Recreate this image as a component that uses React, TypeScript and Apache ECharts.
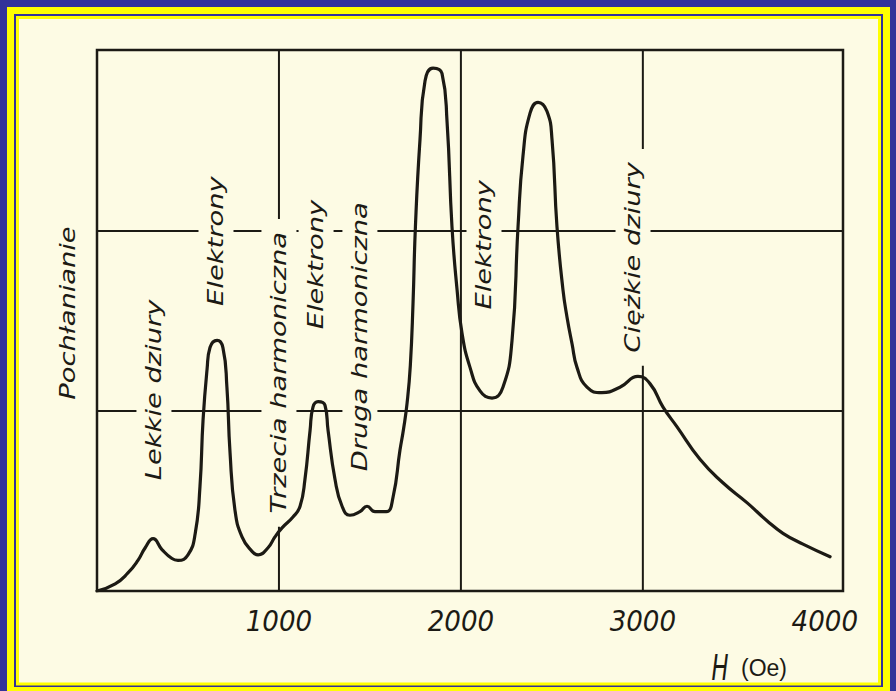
import React, { useEffect, useRef } from "react";
import * as echarts from "echarts";

// Absorption spectrum vs. magnetic field H (Oe)
const fieldOe = [
  0, 100, 170, 225, 265, 308, 357, 412, 445, 500, 540, 566, 583, 605, 621, 660, 692, 714, 731, 758,
  797, 852, 885, 940, 978, 1017, 1077, 1116, 1143, 1171, 1187, 1215, 1253, 1270, 1308, 1347, 1390,
  1445, 1484, 1528, 1590, 1627, 1665, 1685, 1704, 1722, 1737, 1750, 1775, 1803, 1847, 1896, 1924,
  1951, 1979, 2006, 2050, 2105, 2171, 2231, 2281, 2314, 2341, 2380, 2424, 2473, 2501, 2528, 2561,
  2583, 2611, 2638, 2693, 2775, 2874, 2973, 3039, 3111, 3188, 3314, 3440, 3572, 3682, 3770, 3880,
  4029,
];
const absorption = [
  0, 0.04, 0.1, 0.17, 0.24, 0.29, 0.23, 0.18, 0.17, 0.2, 0.32, 0.58, 0.95, 1.23, 1.35, 1.39, 1.35,
  1.13, 0.77, 0.45, 0.3, 0.22, 0.2, 0.24, 0.3, 0.35, 0.41, 0.47, 0.62, 0.89, 1.02, 1.05, 1.03, 0.89,
  0.62, 0.47, 0.42, 0.44, 0.47, 0.44, 0.44, 0.52, 0.78, 0.9, 1.04, 1.25, 1.6, 2.02, 2.5, 2.83, 2.9,
  2.87, 2.6, 2.02, 1.67, 1.43, 1.24, 1.11, 1.07, 1.13, 1.39, 2.02, 2.41, 2.65, 2.71, 2.66, 2.5, 2.02,
  1.67, 1.52, 1.37, 1.24, 1.13, 1.1, 1.13, 1.19, 1.15, 1.02, 0.91, 0.73, 0.6, 0.49, 0.39, 0.32, 0.26,
  0.19,
];

// Tick labels on the field axis and the vertical reference lines
const xTickValues = [1000, 2000, 3000, 4000];
const gridFieldOe = [1000, 2000, 3000];

// Peak annotations (text, field position, absorption level of the text centre)
const labelTexts = [
  "Lekkie dziury",
  "Elektrony",
  "Trzecia harmoniczna",
  "Elektrony",
  "Druga harmoniczna",
  "Elektrony",
  "Ciężkie dziury",
];
const labelFieldOe = [313, 654, 1000, 1204, 1445, 2127, 2946];
const labelAbsorption = [1.115, 1.94, 1.21, 1.81, 1.41, 1.92, 1.85];

const CREAM = "#fdfbe4";
const INK = "#1c1a14";
const BLUE = "#33339a";
const YELLOW = "#ffff00";
const LABEL_FONT = '"DejaVu Sans", "Liberation Sans", sans-serif';
const NARROW_FONT = '"Liberation Sans Narrow", "DejaVu Sans Condensed", "Liberation Sans", sans-serif';

const GRID = { left: 97, right: 53, top: 50, bottom: 100 };

export default function App() {
  const ref = useRef<HTMLDivElement>(null);

  useEffect(() => {
    const el = ref.current!;
    const chart = echarts.init(el, undefined, { renderer: "svg" });
    const curve = fieldOe.map((h, i) => [h, absorption[i]]);

    chart.setOption({
      animation: false,
      backgroundColor: CREAM,
      grid: {
        ...GRID,
        show: true,
        borderColor: INK,
        borderWidth: 2.5,
        backgroundColor: "transparent",
      },
      xAxis: {
        type: "value",
        min: 0,
        max: 4100,
        axisLine: { show: false },
        axisTick: { show: false },
        splitLine: { show: false },
        axisLabel: {
          customValues: xTickValues,
          formatter: (v: number) => String(v),
          margin: 15,
          fontFamily: NARROW_FONT,
          fontStyle: "italic",
          fontSize: 29,
          color: INK,
        },
      },
      yAxis: {
        type: "value",
        min: 0,
        max: 3,
        interval: 1,
        axisLine: { show: false },
        axisTick: { show: false },
        axisLabel: { show: false },
        splitLine: { show: true, lineStyle: { color: INK, width: 2 } },
      },
      series: [
        ...gridFieldOe.map((h) => ({
          type: "line",
          data: [
            [h, 0],
            [h, 3],
          ],
          symbol: "none",
          silent: true,
          z: 1,
          lineStyle: { color: INK, width: 2 },
        })),
        {
          type: "line",
          data: curve,
          smooth: 0.5,
          symbol: "none",
          z: 5,
          lineStyle: { color: INK, width: 3.2, join: "round", cap: "round" },
        },
      ],
    });

    const annotations = labelTexts.map((text, i) => {
      const [x, y] = chart.convertToPixel({ gridIndex: 0 }, [labelFieldOe[i], labelAbsorption[i]]) as number[];
      return {
        type: "text",
        x,
        y,
        rotation: Math.PI / 2,
        scaleX: 1.3,
        z: 3,
        style: {
          text,
          fontFamily: LABEL_FONT,
          fontStyle: "italic",
          fontSize: 21,
          fill: INK,
          align: "center",
          verticalAlign: "middle",
          backgroundColor: CREAM,
          padding: [7, 10],
        },
      };
    });

    const frame = (x: number, y: number, w: number, h: number, stroke: string, lineWidth: number) => ({
      type: "rect",
      z: 20,
      silent: true,
      shape: { x, y, width: w, height: h },
      style: { fill: "none", stroke, lineWidth },
    });

    chart.setOption({
      graphic: [
        ...annotations,
        {
          type: "text",
          x: GRID.left - 29,
          y: 313,
          rotation: Math.PI / 2,
          scaleX: 1.3,
          z: 3,
          style: {
            text: "Pochłanianie",
            fontFamily: LABEL_FONT,
            fontStyle: "italic",
            fontSize: 21,
            fill: INK,
            align: "center",
            verticalAlign: "middle",
          },
        },
        {
          type: "text",
          x: 720,
          y: 667,
          scaleX: 0.7,
          z: 3,
          style: {
            text: "H",
            fontFamily: NARROW_FONT,
            fontStyle: "italic",
            fontSize: 36,
            fill: INK,
            align: "center",
            verticalAlign: "middle",
          },
        },
        {
          type: "text",
          x: 741,
          y: 668,
          z: 3,
          style: {
            text: "(Oe)",
            fontFamily: '"Liberation Sans", sans-serif',
            fontSize: 23,
            fill: INK,
            align: "left",
            verticalAlign: "middle",
          },
        },
        frame(3.5, 3.5, 889.5, 800, BLUE, 7),
        frame(10.5, 10.5, 876, 679, YELLOW, 7),
        frame(15, 15, 867, 671, BLUE, 2),
        frame(17.5, 17.5, 862, 666.5, YELLOW, 3),
      ],
    });

    return () => chart.dispose();
  }, []);

  return (
    <div
      ref={ref}
      style={{ position: "absolute", left: 0, top: 0, width: 896, height: 691 }}
    />
  );
}
